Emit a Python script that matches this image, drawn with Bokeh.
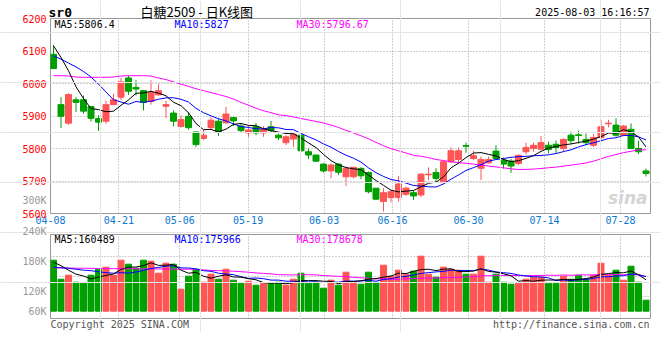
import numpy as np
import pandas as pd
from bokeh.plotting import figure
from bokeh.models import Range1d, FixedTicker, Label, ColumnDataSource
from bokeh.layouts import column
from bokeh.embed import file_html
from bokeh.resources import INLINE

# ---------------- data ----------------
dates = ["04-08", "04-21", "05-06", "05-19", "06-03", "06-16", "06-30", "07-14", "07-28"]
date_index = [0, 9, 17, 26, 36, 45, 55, 65, 75]

opens = [6090, 5935, 5878, 5950, 5950, 5929, 5892, 5884, 5935, 5958,
         6017, 5988, 5978, 5945, 5965, 5930, 5909, 5868, 5899, 5851,
         5831, 5864, 5884, 5879, 5895, 5869, 5848, 5867, 5848, 5867,
         5841, 5818, 5829, 5841, 5790, 5780, 5752, 5731, 5752, 5713,
         5713, 5739, 5726, 5678, 5637, 5649, 5649, 5659, 5664, 5657,
         5719, 5726, 5695, 5759, 5766, 5809, 5769, 5739, 5756, 5792,
         5764, 5761, 5754, 5790, 5800, 5798, 5810, 5813, 5800, 5841,
         5842, 5828, 5810, 5834, 5876, 5872, 5841, 5859, 5800, 5731]
closes = [6046, 5899, 5966, 5942, 5915, 5893, 5881, 5935, 5950, 6005,
          5976, 5983, 5942, 5973, 5978, 5935, 5884, 5889, 5864, 5812,
          5841, 5887, 5852, 5906, 5885, 5855, 5857, 5848, 5859, 5855,
          5833, 5836, 5844, 5793, 5780, 5761, 5731, 5749, 5727, 5739,
          5742, 5716, 5667, 5644, 5664, 5667, 5691, 5678, 5654, 5721,
          5721, 5708, 5759, 5793, 5793, 5807, 5778, 5766, 5766, 5769,
          5752, 5746, 5779, 5803, 5810, 5818, 5797, 5803, 5828, 5824,
          5840, 5818, 5834, 5867, 5878, 5841, 5869, 5800, 5790, 5723]
highs = [6118, 5958, 5970, 5958, 5963, 5929, 5902, 5947, 5968, 6017,
         6024, 6010, 5980, 6010, 5998, 5947, 5917, 5902, 5912, 5851,
         5857, 5896, 5892, 5928, 5898, 5877, 5872, 5879, 5869, 5885,
         5846, 5841, 5846, 5846, 5800, 5780, 5754, 5754, 5754, 5744,
         5744, 5742, 5729, 5678, 5678, 5672, 5715, 5683, 5672, 5724,
         5742, 5739, 5764, 5803, 5803, 5818, 5793, 5775, 5775, 5810,
         5772, 5768, 5782, 5818, 5818, 5838, 5821, 5824, 5831, 5852,
         5855, 5846, 5844, 5888, 5888, 5893, 5872, 5877, 5824, 5738]
lows = [6044, 5863, 5873, 5912, 5907, 5883, 5854, 5876, 5935, 5949,
        5965, 5963, 5917, 5935, 5963, 5893, 5868, 5864, 5858, 5805,
        5826, 5859, 5839, 5877, 5869, 5848, 5836, 5841, 5836, 5848,
        5826, 5810, 5805, 5790, 5768, 5759, 5726, 5708, 5718, 5685,
        5708, 5705, 5662, 5642, 5606, 5634, 5637, 5654, 5642, 5650,
        5703, 5695, 5693, 5756, 5756, 5787, 5764, 5703, 5754, 5766,
        5738, 5725, 5749, 5782, 5790, 5795, 5785, 5785, 5790, 5815,
        5815, 5810, 5805, 5821, 5865, 5836, 5838, 5800, 5782, 5714]
volumes = [260600, 163500, 184000, 148200, 143100, 184000, 214600, 224800, 184000, 260600,
           240200, 219700, 260600, 255500, 194200, 245300, 240200, 112400, 178900, 214600,
           148200, 189100, 163500, 214600, 158400, 143100, 153300, 132900, 143100, 143100,
           148200, 132900, 163500, 194200, 143100, 148200, 117500, 158400, 132900, 199300,
           148200, 138000, 199300, 148200, 235100, 178900, 209500, 189100, 204400, 281100,
           189100, 173700, 224800, 214600, 209500, 189100, 189100, 281100, 148200, 189100,
           148200, 138000, 143100, 163500, 173700, 173700, 143100, 143100, 178900, 163500,
           184000, 163500, 184000, 245300, 184000, 209500, 158400, 230000, 148200, 56200]

# moving-average values before enough sessions are on screen
ma5_head = [6116, 6080, 6039, 5990]
ma10_head = [6085, 6075, 6063, 6051, 6037, 6020, 5998, 5974, 5950]
ma30_head = [6024, 6024, 6023, 6020, 6019, 6019, 6019, 6019, 6020, 6023,
             6024, 6024, 6024, 6023, 6017, 6012, 6005, 5998, 5991, 5984,
             5978, 5972, 5966, 5960, 5952, 5942, 5933, 5924, 5916]
vma5_head = [250400, 232500, 209500, 189100]
vma10_head = [224800, 222300, 219700, 214600, 209500, 207000, 201800, 196700, 194200]
vma30_head = [221300, 220800, 220200, 219700, 219700, 218700, 218200, 217700, 217200, 217200,
              217200, 216700, 216200, 216200, 215600, 215600, 215100, 214600, 214600, 213600,
              210500, 208500, 207000, 205900, 204400, 201800, 199300, 195700, 193200]

price_ticks = [5600, 5700, 5800, 5900, 6000, 6100, 6200]
vol_tick_values = [0, 102200, 255500]
vol_tick_labels = ["60K", "120K", "180K"]
vol_outer_labels = ["300K", "240K"]
vol_grid = [76700, 178900, 281000]

price_legend = [("MA5:5806.4", "#000000"), ("MA10:5827", "#0000ff"), ("MA30:5796.67", "#ff00ff")]
vol_legend = [("MA5:160489", "#000000"), ("MA10:175966", "#0000ff"), ("MA30:178678", "#ff00ff")]
symbol = "sr0"
title_text = "白糖2509 - 日K线图"
stamp = "2025-08-03 16:16:57"
copyright_text = "Copyright 2025 SINA.COM"
url_text = "http://finance.sina.com.cn"

# ---------------- derived ----------------
def moving_average(vals, n, head):
    s = pd.Series(vals, dtype=float).rolling(n).mean().to_numpy()
    s[:len(head)] = head
    return s

n = len(closes)
idx = np.arange(n)
o = np.array(opens, float); c = np.array(closes, float)
RED, GREEN = "#ff5555", "#00a000"
colors = [RED if cc >= oo else GREEN for oo, cc in zip(o, c)]

src = ColumnDataSource(dict(x=idx, top=np.maximum(o, c), bottom=np.minimum(o, c),
                            high=highs, low=lows, color=colors, vol=volumes))

# sina spaces its date grid 7.6 px per session while candles sit 7.5 px apart
tick_x = [round(-0.4 + d * 76 / 75, 4) for d in date_index]

MONO = "DejaVu Sans Mono"
GRID = "#a0a0a0"
W = 660
xr = Range1d(-0.4, 79.6)

def style_axis(ax, color):
    ax.axis_line_color = None
    ax.major_tick_line_color = None
    ax.minor_tick_line_color = None
    ax.major_tick_out = 0
    ax.major_tick_in = 0
    ax.minor_tick_out = 0
    ax.minor_tick_in = 0
    ax.major_label_text_font = MONO
    ax.major_label_text_font_size = "10px"
    ax.major_label_text_color = color

# ---------------- price panel ----------------
p = figure(width=W, height=234, x_range=xr, y_range=Range1d(5600, 6200),
           output_backend="svg", toolbar_location=None, tools="", title=None,
           min_border_left=50, min_border_right=10, min_border_top=18, min_border_bottom=21)
p.outline_line_color = "#999999"

p.xgrid.ticker = FixedTicker(ticks=tick_x)
p.ygrid.ticker = FixedTicker(ticks=price_ticks)
for g in (p.xgrid, p.ygrid):
    g.grid_line_color = GRID
    g.grid_line_dash = "1 2"

p.yaxis.ticker = FixedTicker(ticks=price_ticks)
p.xaxis.ticker = FixedTicker(ticks=tick_x)
p.xaxis.major_label_overrides = {t: d for t, d in zip(tick_x, dates)}
style_axis(p.yaxis[0], "#ff0000")
style_axis(p.xaxis[0], "#0a78d2")
p.yaxis.major_label_standoff = 4
p.xaxis.major_label_standoff = 2

p.segment(x0="x", y0="high", x1="x", y1="low", line_color="color", line_width=1, source=src)
p.vbar(x="x", width=0.8, top="top", bottom="bottom", fill_color="color", line_color="color",
       line_width=1, source=src)
p.line(idx, moving_average(closes, 30, ma30_head), line_color="#ff00ff", line_width=1)
p.line(idx, moving_average(closes, 10, ma10_head), line_color="#0000ff", line_width=1)
p.line(idx, moving_average(closes, 5, ma5_head), line_color="#000000", line_width=1)

# ---------------- volume panel ----------------
VPX = 5110  # lots per pixel
v = figure(width=W, height=98, x_range=xr, y_range=Range1d(-7.3 * VPX, 76.7 * VPX),
           output_backend="svg", toolbar_location=None, tools="", title=None,
           x_axis_location=None,
           min_border_left=50, min_border_right=10, min_border_top=0, min_border_bottom=14)
v.outline_line_color = "#999999"
v.xgrid.ticker = FixedTicker(ticks=tick_x)
v.ygrid.ticker = FixedTicker(ticks=vol_grid)
for g in (v.xgrid, v.ygrid):
    g.grid_line_color = GRID
    g.grid_line_dash = "1 2"
v.yaxis.ticker = FixedTicker(ticks=vol_tick_values)
v.yaxis.major_label_overrides = {t: s for t, s in zip(vol_tick_values, vol_tick_labels)}
style_axis(v.yaxis[0], "#999999")
v.yaxis.major_label_standoff = 4

v.vbar(x="x", width=0.8, top="vol", bottom=0, fill_color="color", line_color="color", source=src)
v.line(idx, moving_average(volumes, 30, vma30_head), line_color="#ff00ff", line_width=1)
v.line(idx, moving_average(volumes, 10, vma10_head), line_color="#0000ff", line_width=1)
v.line(idx, moving_average(volumes, 5, vma5_head), line_color="#000000", line_width=1)

# ---------------- transparent text layer laid over both panels ----------------
H = 234 + 98
t = figure(width=W, height=H, x_range=Range1d(0, W), y_range=Range1d(0, H),
           output_backend="svg", toolbar_location=None, tools="", title=None,
           x_axis_location=None, y_axis_location=None,
           min_border_left=0, min_border_right=0, min_border_top=0, min_border_bottom=0,
           background_fill_color=None, border_fill_color=None, outline_line_color=None)
t.margin = (-H, 0, 0, 0)
if "frame_align" in t.properties():
    t.frame_align = False

def lab(x, y, text, color="#000000", size="10px", font=MONO, align="left", style="normal"):
    # x, y: pixel position on the page (y from the top)
    t.add_layout(Label(x=x, y=H - y, x_units="screen", y_units="screen", text=text,
                       text_color=color, text_font=font, text_font_size=size,
                       text_align=align, text_baseline="middle", text_font_style=style))

lab(48, 11.5, symbol, size="13px", style="bold")
lab(140, 10.5, title_text, size="13px", font="Noto Sans CJK SC")
lab(649, 11.5, stamp, align="right")
for (txt, col), xx in zip(price_legend, [54, 174, 296]):
    lab(xx, 24, txt, col)
for (txt, col), xx in zip(vol_legend, [54, 174, 296]):
    lab(xx, 238.5, txt, col)
lab(46, 199.5, vol_outer_labels[0], color="#999999", align="right")
lab(46, 230.7, vol_outer_labels[1], color="#999999", align="right")
lab(647, 197, "sina", color="#d4d4d4", size="17px", font="DejaVu Sans", align="right",
    style="bold italic")
lab(50, 323.5, copyright_text, color="#555555")
lab(649, 323.8, url_text, color="#555555", align="right")

layout = column(p, v, t, spacing=0)
open("out.html", "w").write(file_html(layout, INLINE))
